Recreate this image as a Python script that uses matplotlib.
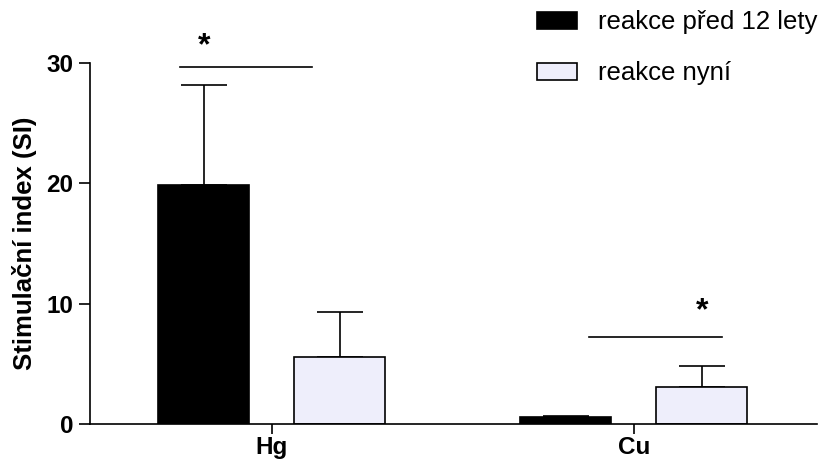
import matplotlib
matplotlib.use("Agg")
import matplotlib.pyplot as plt
import numpy as np
from matplotlib.patches import Patch

# data
groups = ["Hg", "Cu"]
series = ["reakce před 12 lety", "reakce nyní"]
before = [19.9, 0.6]
before_err = [8.3, 0.1]
now = [5.6, 3.1]
now_err = [3.7, 1.75]

# significance brackets: (line x from, line x to, line y, star x, star y) in data units
sig_lines = [(-0.253, 0.111, 29.7, -0.188, 31.4),
             (0.877, 1.243, 7.2, 1.19, 9.4)]

plt.rcParams["font.family"] = ["Liberation Sans", "DejaVu Sans"]

fig = plt.figure(figsize=(8.19, 4.62), dpi=100)
ax = fig.add_axes([0.1099, 0.0823, 0.8877, 0.7813])

x = np.arange(len(groups))
width = 0.251
offset = 0.188
light = "#EEEEFB"
lw = 1.2
fs = 17.5
fs_big = 18.5

ax.bar(x - offset, before, width, color="black", edgecolor="black",
       linewidth=lw, zorder=2)
ax.bar(x + offset, now, width, color=light, edgecolor="black",
       linewidth=lw, zorder=2)
err_kw = dict(fmt="none", ecolor="black", elinewidth=lw, capsize=16.5,
              capthick=lw, zorder=1)
ax.errorbar(x - offset, before, yerr=[np.zeros(len(before)), before_err], **err_kw)
ax.errorbar(x + offset, now, yerr=[np.zeros(len(now)), now_err], **err_kw)

for x0, x1, y, sx, sy in sig_lines:
    ax.plot([x0, x1], [y, y], color="black", lw=lw, clip_on=False)
    ax.text(sx, sy, "*", ha="center", va="center", fontsize=23,
            fontweight="bold", clip_on=False)

ax.set_xlim(-0.502, 1.506)
ax.set_ylim(0, 30)
ax.set_yticks([0, 10, 20, 30])
ax.set_xticks(x)
ax.set_xticklabels(groups)
for lab in ax.get_xticklabels() + ax.get_yticklabels():
    lab.set_fontweight("bold")
    lab.set_fontsize(fs)
ax.tick_params(axis="y", length=8, width=lw, pad=4)
ax.tick_params(axis="x", length=7, width=lw, pad=2)
ax.set_ylabel("Stimulační index (SI)", fontsize=fs_big, fontweight="bold", labelpad=7)

for s in ["top", "right"]:
    ax.spines[s].set_visible(False)
for s in ["left", "bottom"]:
    ax.spines[s].set_linewidth(lw)

handles = [Patch(facecolor="black", edgecolor="black", linewidth=lw),
           Patch(facecolor=light, edgecolor="black", linewidth=lw)]
fig.legend(handles, series, loc="upper left", bbox_to_anchor=(0.6553, 0.978),
           frameon=False, fontsize=fs_big, handlelength=1.55, handleheight=0.64,
           labelspacing=1.05, handletextpad=0.85, borderpad=0, borderaxespad=0)

fig.savefig("out.png", dpi=100)
